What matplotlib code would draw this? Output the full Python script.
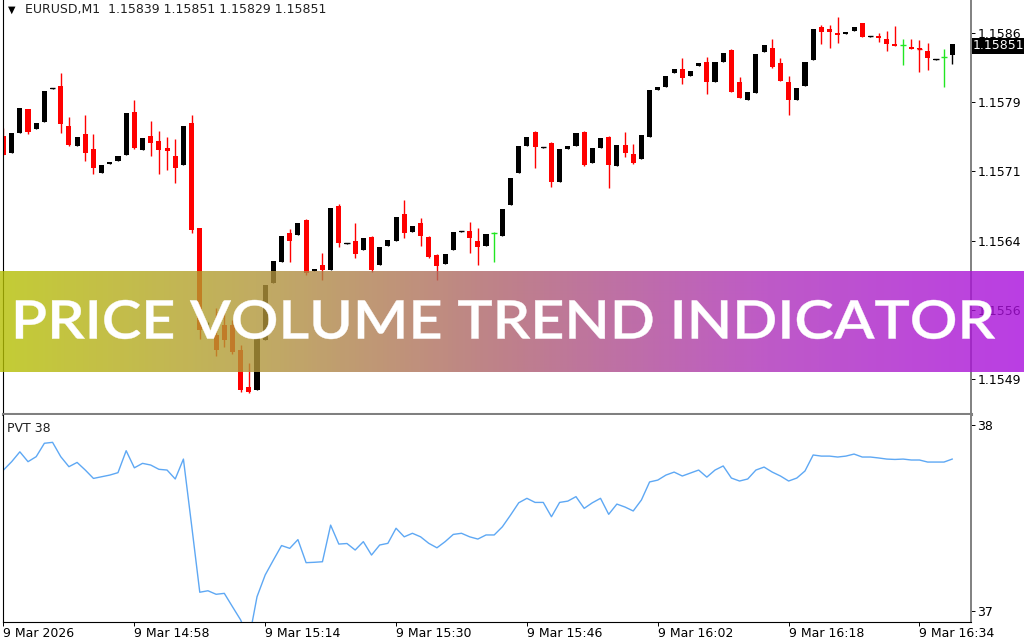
import numpy as np
import matplotlib
matplotlib.use('Agg')
import matplotlib.pyplot as plt
from matplotlib.colors import LinearSegmentedColormap
from matplotlib.patches import PathPatch
from matplotlib.textpath import TextPath
from matplotlib.font_manager import FontProperties
from matplotlib.transforms import Affine2D, blended_transform_factory, offset_copy

symbol = 'EURUSD,M1'

# one-minute candles, 14:42 .. 16:38
opens = [
    1.15752, 1.15733, 1.15755, 1.15781, 1.15759, 1.15767, 1.15802, 1.15805, 1.15762, 1.15741,
    1.15754, 1.15738, 1.15712, 1.15721, 1.15725, 1.15731, 1.15777, 1.15737, 1.15752, 1.15746,
    1.15739, 1.15730, 1.15720, 1.15766, 1.15653, 1.15543, 1.15537, 1.15548, 1.15548, 1.15521,
    1.15481, 1.15478, 1.15532, 1.15593, 1.15616, 1.15647, 1.15645, 1.15661, 1.15606, 1.15613,
    1.15607, 1.15676, 1.15635, 1.15639, 1.15629, 1.15643, 1.15613, 1.15633, 1.15639, 1.15668,
    1.15648, 1.15658, 1.15643, 1.15624, 1.15614, 1.15629, 1.15648, 1.15649, 1.15639, 1.15633,
    1.15647, 1.15644, 1.15677, 1.15712, 1.15741, 1.15756, 1.15739, 1.15744, 1.15702, 1.15738,
    1.15741, 1.15756, 1.15723, 1.15739, 1.15751, 1.15719, 1.15742, 1.15732, 1.15727, 1.15751,
    1.15801, 1.15804, 1.15819, 1.15824, 1.15816, 1.15827, 1.15831, 1.15810, 1.15831, 1.15844,
    1.15810, 1.15790, 1.15798, 1.15842, 1.15846, 1.15830, 1.15810, 1.15790, 1.15805, 1.15833,
    1.15869, 1.15867, 1.15862, 1.15861, 1.15865, 1.15873, 1.15858, 1.15859, 1.15856, 1.15851,
    1.15850, 1.15847, 1.15846, 1.15843, 1.15833, 1.15837, 1.15839,
]
highs = [
    1.15760, 1.15755, 1.15782, 1.15781, 1.15766, 1.15800, 1.15803, 1.15819, 1.15772, 1.15751,
    1.15774, 1.15754, 1.15720, 1.15724, 1.15730, 1.15776, 1.15790, 1.15749, 1.15768, 1.15757,
    1.15751, 1.15748, 1.15762, 1.15774, 1.15653, 1.15551, 1.15566, 1.15566, 1.15554, 1.15527,
    1.15507, 1.15534, 1.15591, 1.15617, 1.15644, 1.15652, 1.15658, 1.15662, 1.15608, 1.15626,
    1.15674, 1.15678, 1.15636, 1.15658, 1.15642, 1.15644, 1.15632, 1.15640, 1.15664, 1.15683,
    1.15655, 1.15663, 1.15644, 1.15625, 1.15625, 1.15648, 1.15649, 1.15659, 1.15653, 1.15646,
    1.15648, 1.15673, 1.15706, 1.15741, 1.15751, 1.15757, 1.15740, 1.15745, 1.15738, 1.15741,
    1.15755, 1.15757, 1.15739, 1.15749, 1.15752, 1.15742, 1.15756, 1.15743, 1.15753, 1.15801,
    1.15804, 1.15816, 1.15824, 1.15836, 1.15822, 1.15830, 1.15837, 1.15831, 1.15841, 1.15845,
    1.15815, 1.15799, 1.15840, 1.15850, 1.15856, 1.15836, 1.15816, 1.15803, 1.15831, 1.15867,
    1.15871, 1.15871, 1.15880, 1.15864, 1.15869, 1.15873, 1.15859, 1.15862, 1.15865, 1.15870,
    1.15856, 1.15856, 1.15855, 1.15852, 1.15834, 1.15845, 1.15851,
]
lows = [
    1.15731, 1.15733, 1.15755, 1.15754, 1.15759, 1.15767, 1.15802, 1.15755, 1.15741, 1.15741,
    1.15725, 1.15711, 1.15712, 1.15721, 1.15725, 1.15731, 1.15738, 1.15737, 1.15730, 1.15711,
    1.15715, 1.15701, 1.15720, 1.15647, 1.15533, 1.15540, 1.15515, 1.15524, 1.15517, 1.15476,
    1.15475, 1.15478, 1.15532, 1.15593, 1.15616, 1.15616, 1.15645, 1.15602, 1.15606, 1.15597,
    1.15607, 1.15632, 1.15635, 1.15620, 1.15629, 1.15605, 1.15613, 1.15633, 1.15639, 1.15642,
    1.15648, 1.15633, 1.15620, 1.15597, 1.15614, 1.15629, 1.15648, 1.15626, 1.15613, 1.15633,
    1.15616, 1.15644, 1.15677, 1.15712, 1.15741, 1.15717, 1.15739, 1.15697, 1.15702, 1.15738,
    1.15741, 1.15719, 1.15723, 1.15739, 1.15696, 1.15719, 1.15729, 1.15721, 1.15727, 1.15751,
    1.15801, 1.15804, 1.15819, 1.15808, 1.15816, 1.15827, 1.15797, 1.15810, 1.15831, 1.15799,
    1.15793, 1.15790, 1.15798, 1.15842, 1.15825, 1.15811, 1.15774, 1.15790, 1.15805, 1.15833,
    1.15851, 1.15846, 1.15852, 1.15861, 1.15865, 1.15858, 1.15858, 1.15853, 1.15843, 1.15848,
    1.15828, 1.15845, 1.15820, 1.15823, 1.15833, 1.15804, 1.15829,
]
closes = [
    1.15731, 1.15755, 1.15782, 1.15756, 1.15766, 1.15800, 1.15803, 1.15765, 1.15742, 1.15751,
    1.15733, 1.15717, 1.15720, 1.15724, 1.15730, 1.15776, 1.15739, 1.15749, 1.15744, 1.15737,
    1.15735, 1.15717, 1.15762, 1.15650, 1.15543, 1.15546, 1.15521, 1.15532, 1.15519, 1.15478,
    1.15476, 1.15534, 1.15591, 1.15617, 1.15644, 1.15639, 1.15658, 1.15604, 1.15608, 1.15607,
    1.15674, 1.15636, 1.15636, 1.15625, 1.15642, 1.15607, 1.15632, 1.15640, 1.15664, 1.15647,
    1.15655, 1.15644, 1.15621, 1.15612, 1.15625, 1.15648, 1.15649, 1.15642, 1.15632, 1.15646,
    1.15647, 1.15673, 1.15706, 1.15741, 1.15751, 1.15740, 1.15740, 1.15702, 1.15738, 1.15741,
    1.15755, 1.15720, 1.15739, 1.15749, 1.15720, 1.15742, 1.15733, 1.15723, 1.15753, 1.15801,
    1.15804, 1.15816, 1.15824, 1.15814, 1.15822, 1.15830, 1.15810, 1.15831, 1.15841, 1.15799,
    1.15793, 1.15799, 1.15840, 1.15850, 1.15826, 1.15811, 1.15790, 1.15803, 1.15831, 1.15867,
    1.15864, 1.15864, 1.15860, 1.15864, 1.15869, 1.15858, 1.15859, 1.15857, 1.15851, 1.15848,
    1.15850, 1.15845, 1.15845, 1.15836, 1.15834, 1.15837, 1.15851,
]

# PVT indicator, one value per candle
pvt = [
    37.758, 37.803, 37.856, 37.803, 37.830, 37.902, 37.907, 37.830, 37.776, 37.799,
    37.758, 37.713, 37.722, 37.731, 37.744, 37.862, 37.770, 37.794, 37.785, 37.762,
    37.758, 37.710, 37.817, 37.462, 37.101, 37.109, 37.090, 37.095, 37.023, 36.952,
    36.844, 37.077, 37.194, 37.274, 37.352, 37.337, 37.384, 37.260, 37.262, 37.265,
    37.462, 37.360, 37.363, 37.328, 37.373, 37.301, 37.355, 37.364, 37.445, 37.399,
    37.418, 37.399, 37.364, 37.340, 37.373, 37.412, 37.418, 37.399, 37.387, 37.409,
    37.409, 37.453, 37.516, 37.582, 37.606, 37.584, 37.584, 37.507, 37.584, 37.591,
    37.615, 37.552, 37.582, 37.606, 37.520, 37.575, 37.559, 37.538, 37.597, 37.694,
    37.704, 37.731, 37.747, 37.726, 37.742, 37.758, 37.720, 37.758, 37.780, 37.715,
    37.699, 37.710, 37.758, 37.774, 37.747, 37.726, 37.699, 37.715, 37.753, 37.839,
    37.833, 37.833, 37.828, 37.833, 37.844, 37.828, 37.828, 37.823, 37.817, 37.815,
    37.817, 37.812, 37.812, 37.801, 37.801, 37.801, 37.817,
]

time_labels = ['9 Mar 2026', '9 Mar 14:58', '9 Mar 15:14', '9 Mar 15:30',
               '9 Mar 15:46', '9 Mar 16:02', '9 Mar 16:18', '9 Mar 16:34']
price_ticks = [1.15490, 1.155645, 1.15639, 1.157135, 1.15788, 1.158625]
pvt_ticks = [37, 38]
banner_text = 'PRICE VOLUME TREND INDICATOR'

W, H = 1024, 640
FS = 9


def frac_box(x0, y0, x1, y1):
    # pixel box measured from the top-left corner -> figure fraction rect
    return [x0 / W, 1 - y1 / H, (x1 - x0) / W, (y1 - y0) / H]


fig = plt.figure(figsize=(W / 100, H / 100), dpi=100)
ax = fig.add_axes(frac_box(3, 0, 971, 413.5))
ax2 = fig.add_axes(frac_box(3, 415, 971, 622))

n = len(closes)
x = np.arange(n)
o = np.array(opens)
c = np.array(closes)
colors = np.where(c > o, 'black', np.where(c < o, '#ff0000', '#22e622'))

# candles
ax.vlines(x, lows, highs, colors=colors, lw=1)
body_lo = np.minimum(o, c)
body_h = np.abs(c - o)
ax.bar(x, body_h, bottom=body_lo, width=0.62, color=colors, linewidth=0)
thin = body_h < 0.000015
ax.hlines(c[thin], x[thin] - 0.33, x[thin] + 0.33, colors=colors[thin], lw=1)

xlim = (-0.06, 118.3)
ax.set_xlim(*xlim)
ax.set_ylim(1.154529, 1.15898)
ax.set_xticks([])
ax.yaxis.tick_right()
ax.set_yticks(price_ticks)
ax.set_yticklabels([f'{v:.4f}' for v in price_ticks])
ax.tick_params(axis='y', length=3, width=0.7, pad=1.5, labelsize=FS, colors='black')

for a in (ax, ax2):
    a.spines['top'].set_visible(False)
    a.spines['left'].set_color('black')
    a.spines['left'].set_linewidth(0.8)
    a.spines['right'].set_color('#808080')
    a.spines['right'].set_linewidth(1.4)
ax.spines['bottom'].set_color('#808080')
ax.spines['bottom'].set_linewidth(2.2)
ax2.spines['bottom'].set_color('black')
ax2.spines['bottom'].set_linewidth(0.8)

# current price tag
tr = offset_copy(blended_transform_factory(ax.transAxes, ax.transData),
                 fig=fig, x=0, y=-2, units='dots')
ax.text(1.002, closes[-1], f'{closes[-1]:.5f}', transform=tr, ha='left', va='center',
        fontsize=FS, color='white', zorder=5,
        bbox=dict(facecolor='black', edgecolor='none', pad=1.0))

# PVT panel
ax2.plot(x, pvt, color='#5ea8f4', lw=1)
ax2.set_xlim(*xlim)
ax2.set_ylim(36.941, 38.054)
ax2.yaxis.tick_right()
ax2.set_yticks(pvt_ticks)
ax2.set_yticklabels([str(v) for v in pvt_ticks])
ax2.tick_params(axis='y', length=3, width=0.7, pad=1.5, labelsize=FS, colors='black')
ax2.set_xticks(np.arange(len(time_labels)) * 16)
ax2.set_xticklabels(time_labels, ha='left')
ax2.tick_params(axis='x', length=3, width=0.7, pad=0.3, labelsize=FS, colors='black')

# header texts
fig.text(8 / W, 1 - 10 / H, '\u25bc', fontsize=7, va='center', ha='left')
fig.text(25 / W, 1 - 10 / H,
         f'{symbol}  {opens[-1]:.5f} {highs[-1]:.5f} {lows[-1]:.5f} {closes[-1]:.5f}',
         fontsize=FS, va='center', ha='left', color='#202020')
fig.text(7 / W, 1 - 428 / H, 'PVT 38', fontsize=FS, va='center', ha='left', color='#202020')

# gradient banner
axb = fig.add_axes(frac_box(0, 271, 1024, 372))
axb.set_xlim(0, W)
axb.set_ylim(372, 271)
axb.axis('off')
stops = ['#b6c003', '#b2973b', '#ae606f', '#ae31ba', '#a90edd']
cmap = LinearSegmentedColormap.from_list('banner', stops)
axb.imshow(np.linspace(0, 1, 512)[None, :], cmap=cmap, aspect='auto',
           extent=(0, W, 372, 271), alpha=0.8, interpolation='bilinear')

tp = TextPath((0, 0), banner_text, size=1,
              prop=FontProperties(family='Lato', weight='semibold'))
ext = tp.get_extents()
sx = (995 - 16) / ext.width
sy = (339 - 300) / ext.height
tf = Affine2D().translate(-ext.x0, -ext.y0).scale(sx, -sy).translate(16, 339)
axb.add_patch(PathPatch(tf.transform_path(tp), facecolor='white', edgecolor='white',
                        linewidth=0.3, joinstyle='round'))

fig.savefig('out.png', dpi=100)
